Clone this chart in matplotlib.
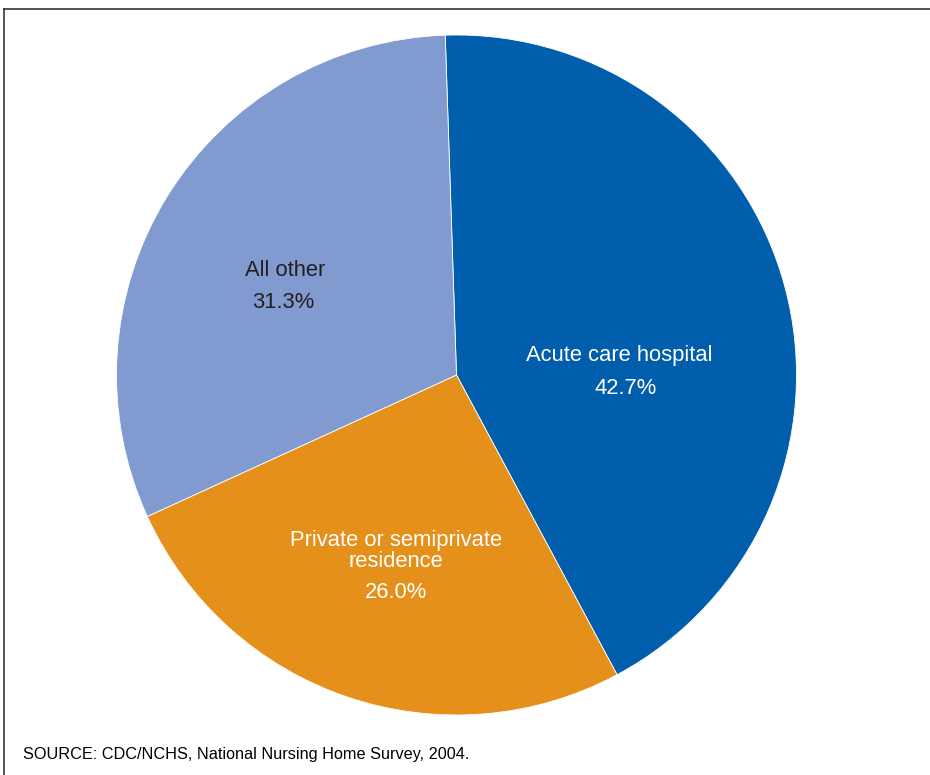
import matplotlib
matplotlib.use('Agg')
import matplotlib.pyplot as plt

# Data
categories = ['Acute care hospital', 'Private or semiprivate\nresidence', 'All other']
shares = [42.7, 26.0, 31.3]
colors = ['#005EAD', '#E5901B', '#819BD0']
text_colors = ['white', 'white', '#231F20']
source = 'SOURCE: CDC/NCHS, National Nursing Home Survey, 2004.'

plt.rcParams['font.family'] = ['Liberation Sans', 'DejaVu Sans']

W, H = 930, 775
fig = plt.figure(figsize=(W / 100, H / 100), dpi=100)
ax = fig.add_axes([0, 0, 1, 1])

# Pie, clockwise, starting just left of 12 o'clock
ax.pie(shares, colors=colors, startangle=91.9, counterclock=False,
       center=(456.5, H - 375), radius=340,
       wedgeprops=dict(edgecolor='white', linewidth=0.6))

# pie() resets the limits, so fix them afterwards (1 unit = 1 pixel)
ax.set_xlim(0, W)
ax.set_ylim(0, H)
ax.set_aspect('equal')
ax.axis('off')

# Slice labels (name + percent)
name_pos = [(619, H - 355), (396, H - 551), (285, H - 270)]
pct_pos = [(626, H - 388), (396, H - 592), (283, H - 303)]
for name, val, tc, npos, ppos in zip(categories, shares, text_colors, name_pos, pct_pos):
    ax.text(npos[0], npos[1], name, color=tc, fontsize=15.8, ha='center', va='center',
            linespacing=1.02)
    ax.text(ppos[0], ppos[1], f'{val:.1f}%', color=tc, fontsize=15.8, ha='center', va='center')

# Frame lines (box runs off the right and bottom edges)
ax.plot([3.5, 3.5], [0, H - 9], color='#333333', lw=1.2, clip_on=False)
ax.plot([3.5, W], [H - 9, H - 9], color='#333333', lw=1.2, clip_on=False)

# Source note
ax.text(23, H - 755, source, fontsize=11.7, ha='left', va='center', color='black')

fig.savefig('out.png', dpi=100)
